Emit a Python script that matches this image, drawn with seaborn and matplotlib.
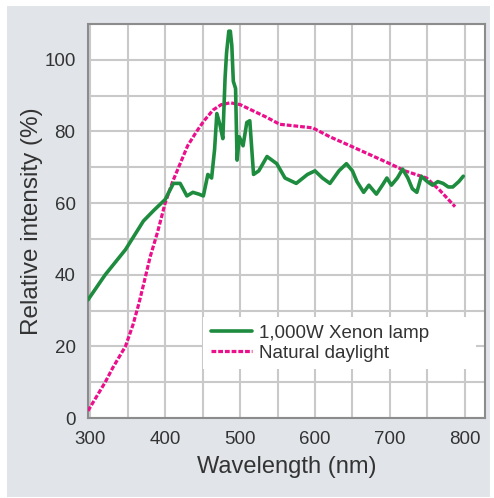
import numpy as np
import pandas as pd
import matplotlib
matplotlib.use("Agg")
import matplotlib.pyplot as plt
from matplotlib.patches import Rectangle
import seaborn as sns

# values
xenon_wl = [297, 320, 347, 371, 385, 400, 411, 420, 429, 437, 445, 451, 457, 462,
            466, 469, 473, 477, 480, 482, 485, 487, 489, 491, 494, 496, 499, 504,
            509, 513, 518, 525, 536, 549, 560, 575, 590, 600, 610, 620, 632, 642,
            650, 656, 665, 672, 682, 690, 696, 702, 710, 717, 724, 730, 736, 742,
            750, 757, 764, 771, 778, 784, 792, 798]
xenon_val = [33, 40, 47, 55, 58, 61, 65.5, 65.5, 62, 63, 62.5, 62, 68, 67,
             75, 85, 82, 78, 95, 102, 108, 108, 104, 94, 92, 72, 78.5, 76,
             82.5, 83, 68, 69, 73, 71, 67, 65.5, 68, 69, 67, 65.5, 69, 71,
             69, 66, 63, 65, 62.5, 65, 67, 65, 67, 69.5, 67, 64, 63, 67.5,
             66, 65, 66, 65.5, 64.5, 64.5, 66, 67.5]

day_wl = [297, 320, 330, 347, 357, 365, 372, 380, 390, 400, 410, 420, 430, 442,
          452, 464, 475, 487, 500, 535, 553, 575, 597, 620, 647, 700, 720, 749,
          767, 787]
day_val = [2, 10, 14, 20, 26, 32, 38, 45, 52, 60, 66, 71, 76, 80,
           83, 86, 87.5, 88, 87.5, 84, 82, 81.5, 81, 78.5, 76, 71, 69, 67,
           63.5, 59]

x_ticks = [300, 400, 500, 600, 700, 800]
y_ticks = [0, 20, 40, 60, 80, 100]

GREEN = "#1e8c3e"
PINK = "#ec0f8c"
TEXT = "#333333"

sns.set_theme(style="whitegrid")
plt.rcParams["font.family"] = ["Liberation Sans", "DejaVu Sans"]

fig = plt.figure(figsize=(4.94, 4.98), dpi=100)
fig.patch.set_facecolor("white")
fig.patches.append(Rectangle((7 / 494, 1 / 498), 483 / 494, 491 / 498,
                             transform=fig.transFigure, facecolor="#e1e5ea",
                             edgecolor="none", zorder=-10))
ax = fig.add_axes([88 / 494, 80 / 498, 397 / 494, 394 / 498])
ax.set_facecolor("white")

xenon = pd.DataFrame({"wl": xenon_wl, "val": xenon_val})
day = pd.DataFrame({"wl": day_wl, "val": day_val})

sns.lineplot(data=xenon, x="wl", y="val", ax=ax, color=GREEN, lw=2.6,
             label="1,000W Xenon lamp", zorder=4)
sns.lineplot(data=day, x="wl", y="val", ax=ax, color=PINK, lw=2.3,
             label="Natural daylight", zorder=3)
ax.lines[-1].set_dashes([1.5, 0.6])

ax.set_xlim(297, 827)
ax.set_ylim(0, 110)
ax.set_xticks(x_ticks)
ax.set_yticks(y_ticks)
ax.set_xticks(np.arange(300, 826, 50), minor=True)
ax.set_yticks(np.arange(0, 111, 10), minor=True)
ax.grid(which="both", color="#c9c9c9", lw=1.5)
ax.tick_params(which="both", length=0, labelsize=13.5, labelcolor=TEXT)
ax.tick_params(axis="x", pad=9)
ax.tick_params(axis="y", pad=9)
for s in ax.spines.values():
    s.set_color("#8c8c8c")
    s.set_linewidth(1.5)

ax.set_xlabel("Wavelength (nm)", fontsize=17, color=TEXT, labelpad=6)
ax.set_ylabel("Relative intensity (%)", fontsize=17.5, color=TEXT, labelpad=1)

leg = ax.legend(loc="upper left", bbox_to_anchor=(0.29, 0.256, 0.687, 0.0),
                mode="expand", fontsize=13.5, frameon=True, fancybox=False,
                framealpha=1, facecolor="white", edgecolor="none",
                handlelength=2.2, handletextpad=0.4, labelspacing=0.15,
                borderpad=0.4, borderaxespad=0)
for t in leg.get_texts():
    t.set_color(TEXT)
leg.get_lines()[1].set_dashes([1.5, 0.6])

fig.savefig("out.png", dpi=100)
